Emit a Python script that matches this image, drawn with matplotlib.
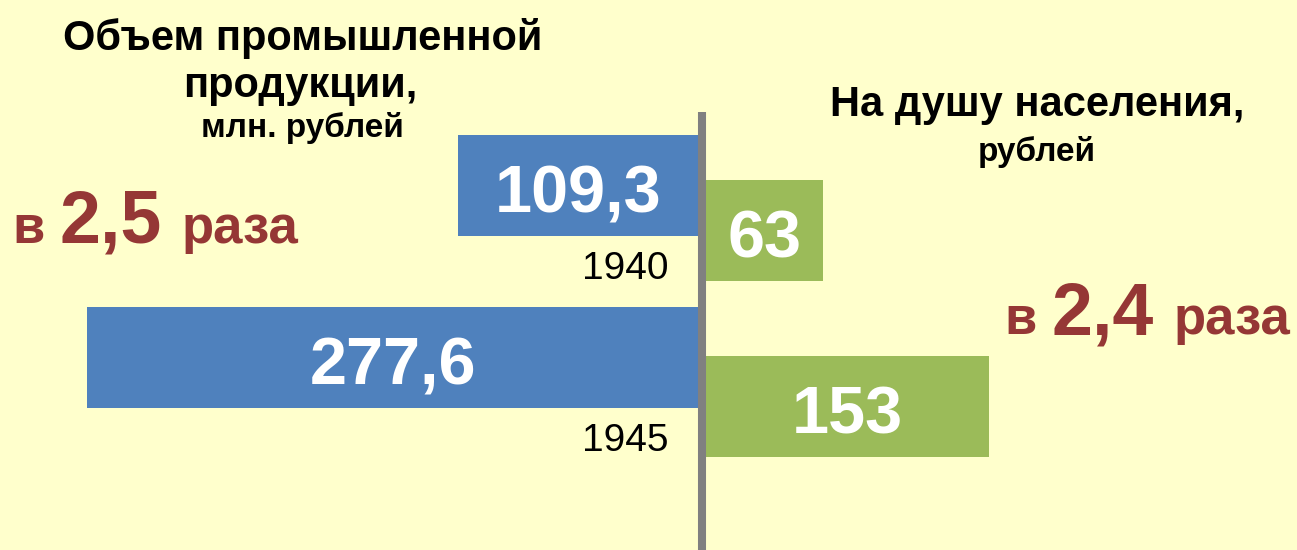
import numpy as np
import matplotlib.pyplot as plt

plt.rcParams['font.family'] = ['Liberation Sans', 'DejaVu Sans']

years = ["1940", "1945"]
output_mln = [109.3, 277.6]          # объем промышленной продукции, млн. руб.
per_capita = [63, 153]               # на душу населения, руб.
output_labels = ["109,3", "277,6"]
per_capita_labels = ["63", "153"]

BG = "#FFFFCC"
BLUE = "#4F81BD"
GREEN = "#9BBB59"
RED = "#953735"
GRAY = "#808080"

W, H = 1297, 550
fig = plt.figure(figsize=(W / 100, H / 100), dpi=100, facecolor=BG)

val_kw = dict(ha="center", va="baseline", fontsize=48, fontweight="bold",
              color="white", textcoords="offset points", xytext=(0, -19.5))

# left half: output volume, bars grow to the left
ax_l = fig.add_axes([0, 0, 698 / W, 1])
ax_l.set_xlim(698 / 2.2, 0)
ax_l.set_ylim((H - 185) / 172, -185 / 172)
ax_l.barh(np.arange(len(years)), output_mln, height=101 / 172, color=BLUE)
for i, (v, lbl) in enumerate(zip(output_mln, output_labels)):
    ax_l.annotate(lbl, xy=(v / 2, i), **val_kw)
    ax_l.annotate(years[i], xy=(0, i), xytext=(-21, -68), textcoords="offset points",
                  ha="right", va="baseline", fontsize=28, color="black")
ax_l.axis("off")

# right half: per capita, bars grow to the right
ax_r = fig.add_axes([706 / W, 0, (W - 706) / W, 1])
ax_r.set_xlim(0, (W - 706) / 1.85)
ax_r.set_ylim((H - 230.5) / 176, -230.5 / 176)
ax_r.barh(np.arange(len(years)), per_capita, height=101 / 176, color=GREEN)
for i, (v, lbl) in enumerate(zip(per_capita, per_capita_labels)):
    ax_r.annotate(lbl, xy=(v / 2, i), **val_kw)
ax_r.axis("off")

# overlay for the axis line and captions, in pixel units
ov = fig.add_axes([0, 0, 1, 1], zorder=5)
ov.set_xlim(0, W)
ov.set_ylim(H, 0)
ov.axis("off")
ov.patch.set_alpha(0)
ov.plot([702, 702], [112, H], color=GRAY, lw=5.8, solid_capstyle="butt")

title_kw = dict(ha="center", va="baseline", fontweight="bold", color="black")
ov.text(303, 50, "Объем промышленной", fontsize=30, **title_kw)
ov.text(300, 97, "продукции,", fontsize=30, **title_kw)
ov.text(302, 137, "млн. рублей", fontsize=24, **title_kw)
ov.text(1037, 116, "На душу населения,", fontsize=30, **title_kw)
ov.text(1037, 161, "рублей", fontsize=24, **title_kw)

ratio_out = output_mln[1] / output_mln[0]
ratio_cap = per_capita[1] / per_capita[0]


def ratio_text(x0, y, ratio):
    s = f"{ratio:.1f}".replace(".", ",")
    t1 = ov.text(x0, y, "в", fontsize=38, fontweight="bold", color=RED, va="baseline")
    fig.canvas.draw()
    r = fig.canvas.get_renderer()
    x = ov.transData.inverted().transform(t1.get_window_extent(r))[1][0] + 15
    t2 = ov.text(x, y, s, fontsize=53, fontweight="bold", color=RED, va="baseline")
    x = ov.transData.inverted().transform(t2.get_window_extent(r))[1][0] + 20
    ov.text(x, y, "раза", fontsize=38, fontweight="bold", color=RED, va="baseline")


ratio_text(12, 243, ratio_out)
ratio_text(1004, 334, ratio_cap)

fig.savefig("out.png", dpi=100, facecolor=BG)
